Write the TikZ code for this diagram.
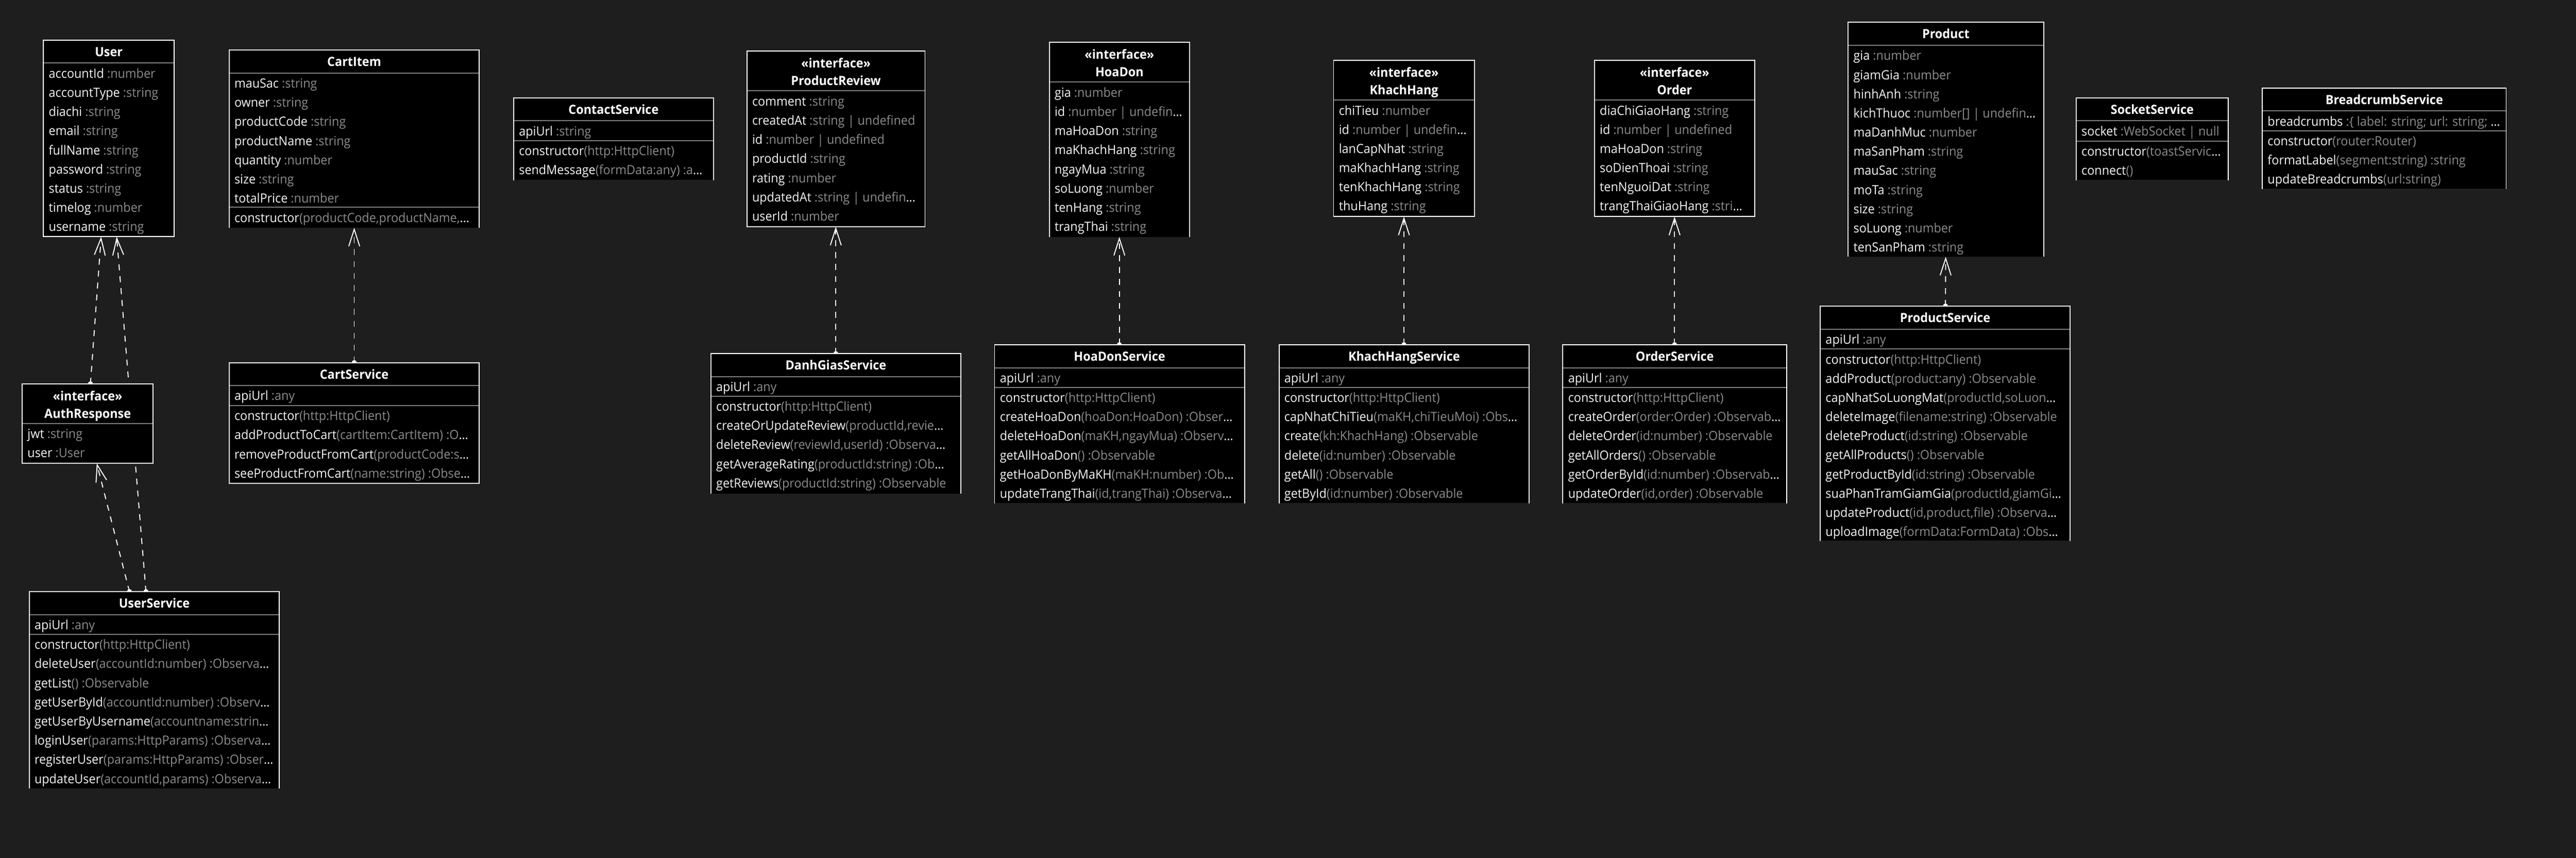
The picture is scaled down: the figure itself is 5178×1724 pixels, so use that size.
\documentclass[tikz,border=0pt]{standalone}
\usepackage{fontspec}
\setmainfont{Open Sans}[FakeStretch=0.95]
\usetikzlibrary{arrows.meta}
\definecolor{bg}{RGB}{30,30,30}
\definecolor{sepgray}{RGB}{125,125,125}
\definecolor{typegray}{RGB}{140,140,140}
\definecolor{namewhite}{RGB}{245,245,245}
\newcommand\nm[1]{\textcolor{namewhite}{#1}}
\newcommand\ty[1]{\textcolor{typegray}{#1}}
\newcommand\el{\textcolor{namewhite}{…}}
\tikzset{
  boxfill/.style={rectangle, fill=black, draw=none, inner sep=0pt, anchor=north west},
  boxline/.style={draw=white, line width=2pt},
  sepline/.style={draw=sepgray, line width=2pt},
  rowtxt/.style={anchor=base west, inner sep=0pt, xshift=10.5pt, font=\fontsize{25.5}{30}\selectfont, text=namewhite},
  hdrtxt/.style={anchor=base, inner sep=0pt, font=\fontsize{25.5}{30}\selectfont\bfseries, text=white},
  dep/.style={draw=white, line width=2pt, dash pattern=on 12pt off 12pt, -{Straight Barb[length=34pt,width=22pt,line width=2pt]}},
  tail/.style={circle, fill=white, draw=none, inner sep=0pt, minimum size=10pt},
}
% #1 name, #2 L, #3 T, #4 R, #5 B
\newcommand\classbox[5]{%
  \node[boxfill, minimum width={(#4-#2)*1pt}, minimum height={(#5-#3)*1pt}] (#1) at (#2,#3) {};
}
\newcommand\boxborder[2]{%
  \ifnum#2=1
    \draw[boxline] (#1.south west) rectangle (#1.north east);
  \else
    \draw[boxline] (#1.south west) -- (#1.north west) -- (#1.north east) -- (#1.south east);
  \fi
}
\newcommand\sepl[2]{\draw[sepline] (#1.west |- 0,#2) -- (#1.east |- 0,#2);}
\newcommand\hdrone[2]{\node[hdrtxt] (#1-title) at ([yshift=-32.5pt]#1.north) {#2};}
\newcommand\hdrtwo[2]{%
  \node[hdrtxt] (#1-stereo) at ([yshift=-33.5pt]#1.north) {«interface»};
  \node[hdrtxt] (#1-title) at ([yshift=-69pt]#1.north) {#2};}
% #1 box, #2 tag, #3 first baseline, #4 list
\newcommand\rows[4]{%
  \foreach \t [count=\i] in {#4} {%
    \pgfmathsetmacro\yy{#3+38.5*(\i-1)}
    \node[rowtxt] (#1-#2\i) at (#1.west |- 0,\yy) {\t};
  }%
}
\begin{document}
\begin{tikzpicture}[x=1pt,y=-1pt]
\fill[bg] (0,0) rectangle (5178,1724);
\useasboundingbox (0,0) rectangle (5178,1724);

% ---- boxes ----
\classbox{user}{87.4}{80.7}{349.5}{475.3}
\classbox{cartitem}{460.5}{100.7}{963}{457.3}
\classbox{contact}{1032.5}{196.7}{1433.7}{361.7}
\classbox{review}{1501.3}{102.7}{1859}{455.3}
\classbox{hoadon}{2109.2}{84.7}{2390.8}{475.7}
\classbox{khachhang}{2680.6}{121}{2963.3}{435}
\classbox{order}{3205}{121}{3526.5}{435}
\classbox{product}{3715}{44.7}{4107.3}{515.7}
\classbox{socket}{4173.3}{196.7}{4478.5}{361.7}
\classbox{breadcrumb}{4547.4}{176.7}{5037.2}{379.3}
\classbox{auth}{44.6}{771.2}{307.4}{930.8}
\classbox{cartsvc}{460.5}{728.7}{963}{971}
\classbox{danhgia}{1429}{710.7}{1931}{991.7}
\classbox{hoadonsvc}{1999.2}{692.7}{2501.2}{1011}
\classbox{khsvc}{2571}{692.7}{3073.3}{1011}
\classbox{ordersvc}{3141.4}{692.7}{3591}{1011}
\classbox{productsvc}{3658.9}{614.9}{4160.7}{1086.6}
\classbox{usersvc}{58.7}{1189}{561.2}{1584}

% ---- connectors ----
\draw[dep] (cartsvc.north -| 712,0) -- (cartitem.south -| 712,0);
\draw[dep] (danhgia.north -| 1680,0) -- (review.south -| 1680,0);
\draw[dep] (hoadonsvc.north -| 2250,0) -- (hoadon.south -| 2250,0);
\draw[dep] (khsvc.north -| 2822,0) -- (khachhang.south -| 2822,0);
\draw[dep] (ordersvc.north -| 3366,0) -- (order.south -| 3366,0);
\draw[dep] (productsvc.north -| 3910.5,0) -- (product.south -| 3911,0);
\draw[dep] (auth.north -| 181.8,0) -- (user.south -| 203.3,0);
\draw[dep] (usersvc.north -| 293.4,0) -- (user.south -| 234.5,0);
\draw[dep] (usersvc.north -| 260.2,0) -- (auth.south -| 194.5,0);
\node[tail] (t1) at (cartsvc.north -| 712,0) {};
\node[tail] (t2) at (danhgia.north -| 1680,0) {};
\node[tail] (t3) at (hoadonsvc.north -| 2250,0) {};
\node[tail] (t4) at (khsvc.north -| 2822,0) {};
\node[tail] (t5) at (ordersvc.north -| 3366,0) {};
\node[tail] (t6) at (productsvc.north -| 3910.5,0) {};
\node[tail] (t7) at (auth.north -| 181.8,0) {};
\node[tail] (t8) at (usersvc.north -| 293.4,0) {};
\node[tail] (t9) at (usersvc.north -| 260.2,0) {};

% ---- redraw boxes that connectors pass under ----
\classbox{user}{87.4}{80.7}{349.5}{475.3}
\classbox{auth}{44.6}{771.2}{307.4}{930.8}
\classbox{cartsvc}{460.5}{728.7}{963}{971}
\classbox{danhgia}{1429}{710.7}{1931}{991.7}
\classbox{hoadonsvc}{1999.2}{692.7}{2501.2}{1011}
\classbox{khsvc}{2571}{692.7}{3073.3}{1011}
\classbox{ordersvc}{3141.4}{692.7}{3591}{1011}
\classbox{productsvc}{3658.9}{614.9}{4160.7}{1086.6}
\classbox{usersvc}{58.7}{1189}{561.2}{1584}

% ---- separators ----
\sepl{user}{126.7}
\sepl{cartitem}{146.7}\sepl{cartitem}{416.7}
\sepl{contact}{242.7}\sepl{contact}{282.3}
\sepl{review}{182.7}
\sepl{hoadon}{165}
\sepl{khachhang}{201}
\sepl{order}{201}
\sepl{product}{91}
\sepl{socket}{242.7}\sepl{socket}{283.3}
\sepl{breadcrumb}{222.7}\sepl{breadcrumb}{262.7}
\sepl{auth}{851}
\sepl{cartsvc}{774.6}\sepl{cartsvc}{814.8}
\sepl{danhgia}{756.7}\sepl{danhgia}{796}
\sepl{hoadonsvc}{739}\sepl{hoadonsvc}{778.3}
\sepl{khsvc}{739}\sepl{khsvc}{778.3}
\sepl{ordersvc}{739}\sepl{ordersvc}{778.3}
\sepl{productsvc}{661.5}\sepl{productsvc}{701.2}
\sepl{usersvc}{1235}\sepl{usersvc}{1274.6}

% ---- borders ----
\boxborder{user}{1}
\boxborder{cartitem}{0}
\boxborder{contact}{0}
\boxborder{review}{1}
\boxborder{hoadon}{0}
\boxborder{khachhang}{1}
\boxborder{order}{1}
\boxborder{product}{0}
\boxborder{socket}{0}
\boxborder{breadcrumb}{0}
\boxborder{auth}{1}
\boxborder{cartsvc}{1}
\boxborder{danhgia}{0}
\boxborder{hoadonsvc}{0}
\boxborder{khsvc}{0}
\boxborder{ordersvc}{0}
\boxborder{productsvc}{0}
\boxborder{usersvc}{0}

% ---- headers ----
\hdrone{user}{User}
\hdrone{cartitem}{CartItem}
\hdrone{contact}{ContactService}
\hdrtwo{review}{ProductReview}
\hdrtwo{hoadon}{HoaDon}
\hdrtwo{khachhang}{KhachHang}
\hdrtwo{order}{Order}
\hdrone{product}{Product}
\hdrone{socket}{SocketService}
\hdrone{breadcrumb}{BreadcrumbService}
\hdrtwo{auth}{AuthResponse}
\hdrone{cartsvc}{CartService}
\hdrone{danhgia}{DanhGiasService}
\hdrone{hoadonsvc}{HoaDonService}
\hdrone{khsvc}{KhachHangService}
\hdrone{ordersvc}{OrderService}
\hdrone{productsvc}{ProductService}
\hdrone{usersvc}{UserService}

% ---- members ----
\rows{user}{a}{156.7}{{\nm{accountId} \ty{:number}},{\nm{accountType} \ty{:string}},{\nm{diachi} \ty{:string}},{\nm{email} \ty{:string}},{\nm{fullName} \ty{:string}},{\nm{password} \ty{:string}},{\nm{status} \ty{:string}},{\nm{timelog} \ty{:number}},{\nm{username} \ty{:string}}}

\rows{cartitem}{a}{176.7}{{\nm{mauSac} \ty{:string}},{\nm{owner} \ty{:string}},{\nm{productCode} \ty{:string}},{\nm{productName} \ty{:string}},{\nm{quantity} \ty{:number}},{\nm{size} \ty{:string}},{\nm{totalPrice} \ty{:number}}}
\rows{cartitem}{m}{446.7}{{\nm{constructor}\ty{(productCode,productName,}\el}}

\rows{contact}{a}{272.7}{{\nm{apiUrl} \ty{:string}}}
\rows{contact}{m}{312.3}{{\nm{constructor}\ty{(http:HttpClient)}},{\nm{sendMessage}\ty{(formData:any) :a}\el}}

\rows{review}{a}{212.7}{{\nm{comment} \ty{:string}},{\nm{createdAt} \ty{:string | undefined}},{\nm{id} \ty{:number | undefined}},{\nm{productId} \ty{:string}},{\nm{rating} \ty{:number}},{\nm{updatedAt} \ty{:string | undefin}\el},{\nm{userId} \ty{:number}}}

\rows{hoadon}{a}{195}{{\nm{gia} \ty{:number}},{\nm{id} \ty{:number | undefin}\el},{\nm{maHoaDon} \ty{:string}},{\nm{maKhachHang} \ty{:string}},{\nm{ngayMua} \ty{:string}},{\nm{soLuong} \ty{:number}},{\nm{tenHang} \ty{:string}},{\nm{trangThai} \ty{:string}}}

\rows{khachhang}{a}{231}{{\nm{chiTieu} \ty{:number}},{\nm{id} \ty{:number | undefin}\el},{\nm{lanCapNhat} \ty{:string}},{\nm{maKhachHang} \ty{:string}},{\nm{tenKhachHang} \ty{:string}},{\nm{thuHang} \ty{:string}}}

\rows{order}{a}{231}{{\nm{diaChiGiaoHang} \ty{:string}},{\nm{id} \ty{:number | undefined}},{\nm{maHoaDon} \ty{:string}},{\nm{soDienThoai} \ty{:string}},{\nm{tenNguoiDat} \ty{:string}},{\nm{trangThaiGiaoHang} \ty{:stri}\el}}

\rows{product}{a}{121}{{\nm{gia} \ty{:number}},{\nm{giamGia} \ty{:number}},{\nm{hinhAnh} \ty{:string}},{\nm{kichThuoc} \ty{:number[] | undefin}\el},{\nm{maDanhMuc} \ty{:number}},{\nm{maSanPham} \ty{:string}},{\nm{mauSac} \ty{:string}},{\nm{moTa} \ty{:string}},{\nm{size} \ty{:string}},{\nm{soLuong} \ty{:number}},{\nm{tenSanPham} \ty{:string}}}

\rows{socket}{a}{272.7}{{\nm{socket} \ty{:WebSocket | null}}}
\rows{socket}{m}{313.3}{{\nm{constructor}\ty{(toastServic}\el},{\nm{connect}\ty{()}}}

\rows{breadcrumb}{a}{252.7}{{\nm{breadcrumbs} \ty{:\{ label: string; url: string; }\el}}
\rows{breadcrumb}{m}{292.7}{{\nm{constructor}\ty{(router:Router)}},{\nm{formatLabel}\ty{(segment:string) :string}},{\nm{updateBreadcrumbs}\ty{(url:string)}}}

\rows{auth}{a}{881}{{\nm{jwt} \ty{:string}},{\nm{user} \ty{:User}}}

\rows{cartsvc}{a}{804.6}{{\nm{apiUrl} \ty{:any}}}
\rows{cartsvc}{m}{844.8}{{\nm{constructor}\ty{(http:HttpClient)}},{\nm{addProductToCart}\ty{(cartItem:CartItem) :O}\el},{\nm{removeProductFromCart}\ty{(productCode:s}\el},{\nm{seeProductFromCart}\ty{(name:string) :Obse}\el}}

\rows{danhgia}{a}{786.7}{{\nm{apiUrl} \ty{:any}}}
\rows{danhgia}{m}{826}{{\nm{constructor}\ty{(http:HttpClient)}},{\nm{createOrUpdateReview}\ty{(productId,revie}\el},{\nm{deleteReview}\ty{(reviewId,userId) :Observa}\el},{\nm{getAverageRating}\ty{(productId:string) :Ob}\el},{\nm{getReviews}\ty{(productId:string) :Observable}}}

\rows{hoadonsvc}{a}{769}{{\nm{apiUrl} \ty{:any}}}
\rows{hoadonsvc}{m}{808.3}{{\nm{constructor}\ty{(http:HttpClient)}},{\nm{createHoaDon}\ty{(hoaDon:HoaDon) :Obser}\el},{\nm{deleteHoaDon}\ty{(maKH,ngayMua) :Observ}\el},{\nm{getAllHoaDon}\ty{() :Observable}},{\nm{getHoaDonByMaKH}\ty{(maKH:number) :Ob}\el},{\nm{updateTrangThai}\ty{(id,trangThai) :Observa}\el}}

\rows{khsvc}{a}{769}{{\nm{apiUrl} \ty{:any}}}
\rows{khsvc}{m}{808.3}{{\nm{constructor}\ty{(http:HttpClient)}},{\nm{capNhatChiTieu}\ty{(maKH,chiTieuMoi) :Obs}\el},{\nm{create}\ty{(kh:KhachHang) :Observable}},{\nm{delete}\ty{(id:number) :Observable}},{\nm{getAll}\ty{() :Observable}},{\nm{getById}\ty{(id:number) :Observable}}}

\rows{ordersvc}{a}{769}{{\nm{apiUrl} \ty{:any}}}
\rows{ordersvc}{m}{808.3}{{\nm{constructor}\ty{(http:HttpClient)}},{\nm{createOrder}\ty{(order:Order) :Observab}\el},{\nm{deleteOrder}\ty{(id:number) :Observable}},{\nm{getAllOrders}\ty{() :Observable}},{\nm{getOrderById}\ty{(id:number) :Observab}\el},{\nm{updateOrder}\ty{(id,order) :Observable}}}

\rows{productsvc}{a}{691.5}{{\nm{apiUrl} \ty{:any}}}
\rows{productsvc}{m}{731.2}{{\nm{constructor}\ty{(http:HttpClient)}},{\nm{addProduct}\ty{(product:any) :Observable}},{\nm{capNhatSoLuongMat}\ty{(productId,soLuon}\el},{\nm{deleteImage}\ty{(filename:string) :Observable}},{\nm{deleteProduct}\ty{(id:string) :Observable}},{\nm{getAllProducts}\ty{() :Observable}},{\nm{getProductById}\ty{(id:string) :Observable}},{\nm{suaPhanTramGiamGia}\ty{(productId,giamGi}\el},{\nm{updateProduct}\ty{(id,product,file) :Observa}\el},{\nm{uploadImage}\ty{(formData:FormData) :Obs}\el}}

\rows{usersvc}{a}{1265}{{\nm{apiUrl} \ty{:any}}}
\rows{usersvc}{m}{1304.6}{{\nm{constructor}\ty{(http:HttpClient)}},{\nm{deleteUser}\ty{(accountId:number) :Observa}\el},{\nm{getList}\ty{() :Observable}},{\nm{getUserById}\ty{(accountId:number) :Observ}\el},{\nm{getUserByUsername}\ty{(accountname:strin}\el},{\nm{loginUser}\ty{(params:HttpParams) :Observa}\el},{\nm{registerUser}\ty{(params:HttpParams) :Obser}\el},{\nm{updateUser}\ty{(accountId,params) :Observa}\el}}
\end{tikzpicture}
\end{document}
